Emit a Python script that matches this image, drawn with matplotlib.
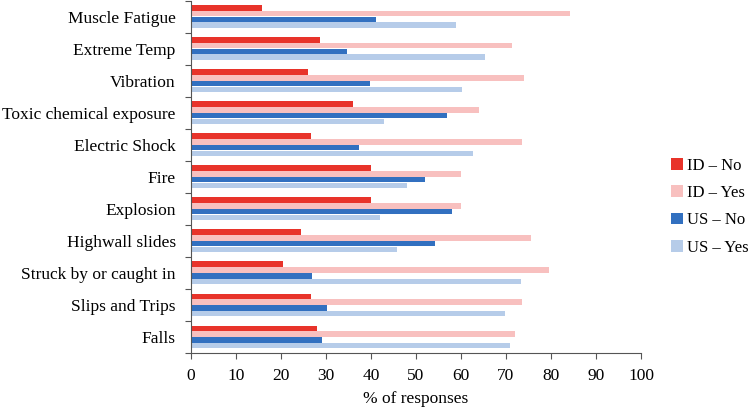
import numpy as np
import matplotlib
matplotlib.use('Agg')
import matplotlib.pyplot as plt

# categories, top to bottom
categories = ["Muscle Fatigue", "Extreme Temp", "Vibration", "Toxic chemical exposure",
              "Electric Shock", "Fire", "Explosion", "Highwall slides",
              "Struck by or caught in", "Slips and Trips", "Falls"]

id_no = [15.8, 28.6, 26.0, 36.0, 26.6, 40.0, 40.0, 24.5, 20.4, 26.6, 28.0]
id_yes = [84.3, 71.3, 74.0, 64.0, 73.6, 60.0, 60.0, 75.5, 79.6, 73.6, 72.0]
us_no = [41.1, 34.7, 39.8, 57.0, 37.4, 52.0, 58.1, 54.2, 26.8, 30.3, 29.1]
us_yes = [58.9, 65.3, 60.2, 43.0, 62.7, 48.0, 41.9, 45.8, 73.4, 69.8, 71.0]

series = [("ID \u2013 No", id_no, '#E8332A'),
          ("ID \u2013 Yes", id_yes, '#F8C0BF'),
          ("US \u2013 No", us_no, '#3270C0'),
          ("US \u2013 Yes", us_yes, '#B6CCE9')]

plt.rcParams['font.family'] = ['Liberation Serif', 'DejaVu Serif']

fig = plt.figure(figsize=(7.51, 4.07), dpi=100)
ax = fig.add_axes([0.2543, 0.1327, 0.5992, 0.866])

y = np.arange(len(categories))
step = 0.18
for k, (name, vals, col) in enumerate(series):
    ax.barh(y + (k - 1.5) * step, vals, height=0.172, color=col, label=name)

ax.set_xlim(0, 100)
ax.set_ylim(len(categories) - 0.5, -0.5)
ax.set_xticks(np.arange(0, 101, 10))
ax.set_xlabel("% of responses", fontsize=12.5, labelpad=5)

# labels at centres, tick marks at category boundaries
ax.set_yticks(np.arange(-0.5, len(categories), 1.0))
ax.set_yticklabels([])
ax.set_yticks(y, minor=True)
ax.set_yticklabels(categories, minor=True, fontsize=12.5)
ax.tick_params(axis='y', which='minor', length=0, pad=11)
ax.tick_params(axis='y', which='major', length=4, width=0.8, color='#555555')
ax.tick_params(axis='x', length=4, width=0.8, color='#555555', labelsize=12.5, pad=7)

for s in ['top', 'right']:
    ax.spines[s].set_visible(False)
for s in ['left', 'bottom']:
    ax.spines[s].set_color('#555555')
    ax.spines[s].set_linewidth(0.8)

ax.legend(loc='center left', bbox_to_anchor=(1.052, 0.415), frameon=False,
          fontsize=12, handlelength=0.7, handleheight=0.7, handletextpad=0.25,
          labelspacing=0.68, borderaxespad=0.0)

fig.savefig('out.png', dpi=100)
